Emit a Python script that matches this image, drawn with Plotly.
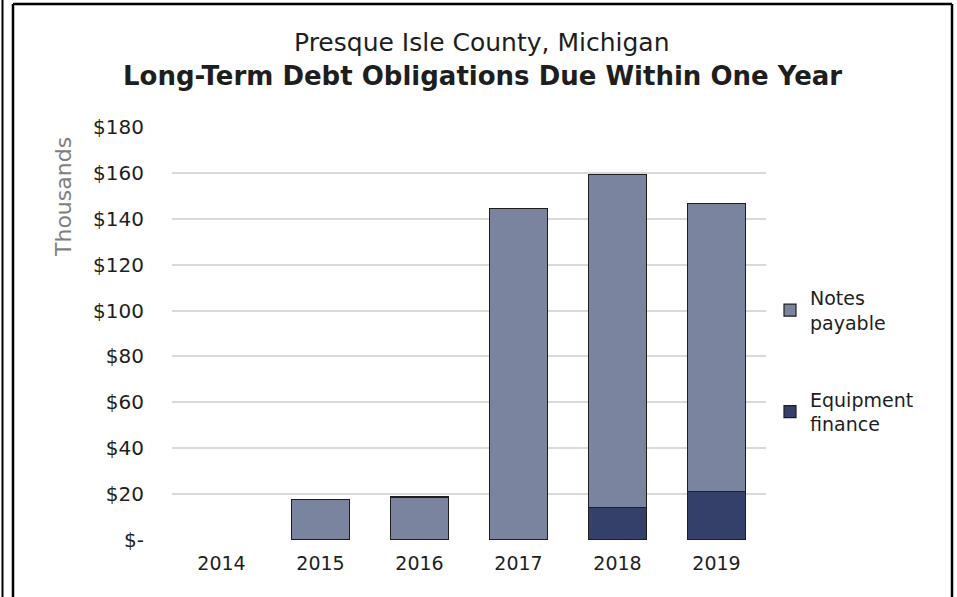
import plotly.graph_objects as go

years = ["2014", "2015", "2016", "2017", "2018", "2019"]
notes_payable = [None, 17.8, 18.7, 144.4, 145.1, 125.3]
equipment_finance = [None, None, None, None, 14.3, 21.3]
y_ticks = [0, 20, 40, 60, 80, 100, 120, 140, 160, 180]
y_tick_labels = ["$-", "$20", "$40", "$60", "$80", "$100", "$120", "$140", "$160", "$180"]

W, H = 957, 597
L, R, T, B = 172, 766, 127, 540

FONT = "DejaVu Sans"
INK = "#1e1e1e"


def px(x):
    return (x - L) / (R - L)


def py(y):
    return (B - y) / (B - T)


fig = go.Figure()

# equipment first so it sits at the bottom of the stack
fig.add_trace(go.Bar(
    x=years, y=equipment_finance, name="Equipment<br>finance",
    marker=dict(color="#35406a", line=dict(color=INK, width=1.2)),
    legendgroup="eq", legendrank=2,
))
fig.add_trace(go.Bar(
    x=years, y=notes_payable, name="Notes<br>payable",
    marker=dict(color="#7a849f", line=dict(color=INK, width=1.2)),
    legendgroup="np", legendrank=1,
))

fig.update_layout(
    width=W, height=H, autosize=False,
    margin=dict(l=L, r=W - R, t=T, b=H - B),
    barmode="stack", bargap=0.42,
    plot_bgcolor="white", paper_bgcolor="white",
    font=dict(family=FONT, size=18, color=INK),
    showlegend=True,
    legend=dict(
        x=px(770), y=py(279), xanchor="left", yanchor="top",
        traceorder="grouped", tracegroupgap=49,
        font=dict(size=19, color=INK),
        itemwidth=30, bgcolor="rgba(0,0,0,0)",
    ),
)

fig.update_xaxes(
    showgrid=False, showline=False, ticks="", zeroline=False,
    ticklabelstandoff=10,
    tickfont=dict(size=19, color=INK),
)
fig.update_yaxes(
    range=[0, 180], tickvals=y_ticks, ticktext=y_tick_labels,
    showgrid=True, gridcolor="#d9d9d9", gridwidth=2,
    zeroline=False, showline=False, ticks="", ticklabelstandoff=27,
    tickfont=dict(size=20, color=INK),
)

# titles
fig.add_annotation(
    x=px(482), y=py(42), xref="paper", yref="paper", showarrow=False,
    xanchor="center", yanchor="middle",
    text="Presque Isle County, Michigan", font=dict(size=25, color=INK),
)
fig.add_annotation(
    x=px(482), y=py(76), xref="paper", yref="paper", showarrow=False,
    xanchor="center", yanchor="middle",
    text="<b>Long-Term Debt Obligations Due Within One Year</b>",
    font=dict(size=26, color=INK),
)
fig.add_annotation(
    x=px(63), y=py(197), xref="paper", yref="paper", showarrow=False,
    xanchor="center", yanchor="middle",
    text="Thousands", textangle=-90, font=dict(size=22, color="#7f7f7f"),
)

# frame lines
fig.add_shape(type="line", xref="paper", yref="paper",
              x0=px(13), x1=px(952), y0=py(4), y1=py(4),
              line=dict(color="black", width=2.5))
fig.add_shape(type="line", xref="paper", yref="paper",
              x0=px(13), x1=px(13), y0=py(4), y1=py(600),
              line=dict(color="black", width=2.5))
fig.add_shape(type="line", xref="paper", yref="paper",
              x0=px(952), x1=px(952), y0=py(4), y1=py(600),
              line=dict(color="black", width=2.5))
fig.add_shape(type="line", xref="paper", yref="paper",
              x0=px(2.5), x1=px(2.5), y0=py(-5), y1=py(600),
              line=dict(color="black", width=2))

fig.write_html(
    "out.html",
    config={"displayModeBar": False},
    post_script="document.body.style.margin = '0';",
)
